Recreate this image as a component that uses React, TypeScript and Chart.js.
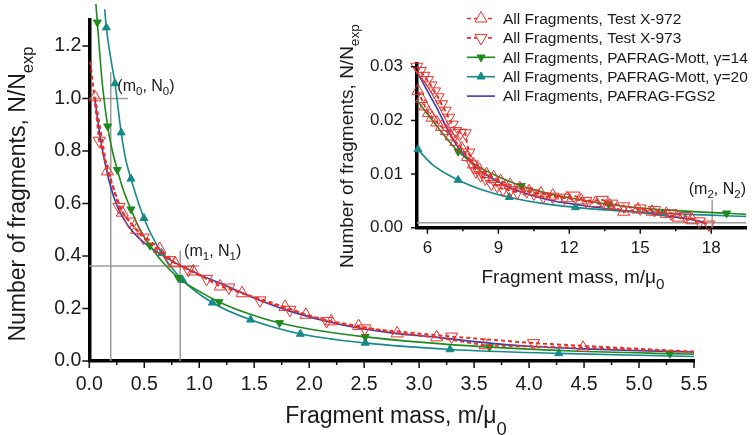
import React, { useEffect, useRef } from 'react';
import { Chart, registerables } from 'chart.js';
Chart.register(...registerables);

const FONT = '"Liberation Sans", Arial, Helvetica, sans-serif';

const RED = '#e8302a';
const GREEN = '#1d8a1d';
const TEAL = '#148a8a';
const BLUE = '#3040b4';
const GRAY = '#9c9c9c';

const seriesNames = [
  'All Fragments, Test X-972',
  'All Fragments, Test X-973',
  'All Fragments, PAFRAG-Mott, γ=14',
  'All Fragments, PAFRAG-Mott, γ=20',
  'All Fragments, PAFRAG-FGS2',
];

// ---------- main plot ----------
const mainXRange = [0, 5.5];
const mainYRange = [0, 1.3];
const mainXTicks = [0, 0.5, 1, 1.5, 2, 2.5, 3, 3.5, 4, 4.5, 5, 5.5];
const mainXTickLabels = ['0.0', '0.5', '1.0', '1.5', '2.0', '2.5', '3.0', '3.5', '4.0', '4.5', '5.0', '5.5'];
const mainXMinor = [0.25, 0.75, 1.25, 1.75, 2.25, 2.75, 3.25, 3.75, 4.25, 4.75, 5.25];
const mainYTicks = [0, 0.2, 0.4, 0.6, 0.8, 1.0, 1.2];
const mainYTickLabels = ['0.0', '0.2', '0.4', '0.6', '0.8', '1.0', '1.2'];

const mainX972X = [0.052, 0.164, 0.30, 0.43, 0.64, 0.78, 0.945, 1.19, 1.39, 1.78, 1.97, 2.2, 2.45, 2.8, 3.16, 3.6, 4.49, 5.5];
const mainX972Y = [1.004, 0.722, 0.565, 0.50, 0.427, 0.372, 0.341, 0.284, 0.258, 0.206, 0.176, 0.151, 0.133, 0.105, 0.090, 0.060, 0.050, 0.035];
const mainX972Unmarked = [5.5];

const mainX973X = [0.01, 0.09, 0.27, 0.364, 0.49, 0.73, 0.90, 1.067, 1.27, 1.552, 1.825, 2.158, 2.506, 3.295, 4.04, 5.5];
const mainX973Y = [1.14, 0.839, 0.587, 0.531, 0.47, 0.384, 0.347, 0.313, 0.28, 0.231, 0.195, 0.152, 0.124, 0.093, 0.068, 0.035];
const mainX973Unmarked = [0.01, 5.5];

const mainG14X = [0.06, 0.073, 0.12, 0.167, 0.21, 0.255, 0.31, 0.379, 0.46, 0.552, 0.67, 0.81, 1.0, 1.18, 1.45, 1.73, 2.1, 2.51, 3.0, 3.64, 4.4, 5.28, 5.5];
const mainG14Y = [1.36, 1.29, 1.05, 0.894, 0.80, 0.728, 0.65, 0.578, 0.50, 0.44, 0.375, 0.317, 0.265, 0.225, 0.18, 0.145, 0.115, 0.092, 0.072, 0.053, 0.038, 0.028, 0.026];
const mainG14Marks = [0.073, 0.167, 0.255, 0.379, 0.552, 0.81, 1.18, 1.73, 2.51, 3.64, 5.28];

const mainG20X = [0.14, 0.155, 0.2, 0.234, 0.29, 0.33, 0.379, 0.497, 0.658, 0.849, 1.12, 1.467, 1.92, 2.51, 3.28, 4.27, 5.5];
const mainG20Y = [1.34, 1.27, 1.14, 1.057, 0.87, 0.77, 0.694, 0.544, 0.411, 0.308, 0.222, 0.157, 0.103, 0.069, 0.044, 0.029, 0.017];
const mainG20Marks = [0.155, 0.234, 0.29, 0.379, 0.497, 0.658, 0.849, 1.12, 1.467, 1.92, 2.51, 3.28, 4.27];

const mainFgsX = [0.05, 0.1, 0.15, 0.2, 0.25, 0.3, 0.4, 0.5, 0.64, 0.8, 1.0, 1.25, 1.55, 1.82, 2.28, 2.73, 3.19, 3.6, 4.0, 4.5, 5.0, 5.5];
const mainFgsY = [1.0, 0.85, 0.74, 0.655, 0.593, 0.55, 0.49, 0.45, 0.409, 0.37, 0.33, 0.286, 0.231, 0.19, 0.139, 0.108, 0.089, 0.07, 0.056, 0.046, 0.039, 0.034];

const cross0VX = [0.195, 0.195];
const cross0VY = [0, 1.10];
const cross0HX = [0, 0.35];
const cross0HY = [1.0, 1.0];
const cross1VX = [0.827, 0.827];
const cross1VY = [0, 0.42];
const cross1HX = [0, 1.0];
const cross1HY = [0.362, 0.362];

// ---------- inset ----------
const insetXRange = [5.56, 19.47];
const insetYRange = [0, 0.0305];
const insetXTicks = [6, 9, 12, 15, 18];
const insetXTickLabels = ['6', '9', '12', '15', '18'];
const insetXMinor = [7.5, 10.5, 13.5, 16.5];
const insetYTicks = [0, 0.01, 0.02, 0.03];
const insetYTickLabels = ['0.00', '0.01', '0.02', '0.03'];

const insX973X = [5.55, 5.7, 5.85, 6.0, 6.15, 6.3, 6.45, 6.6, 6.75, 6.9, 7.05, 7.2, 7.4, 7.6, 7.75, 7.9, 8.05, 8.25, 8.45, 8.7, 8.95, 9.2, 9.5, 9.8, 10.2, 10.5, 10.9, 11.3, 11.8, 12.2, 12.7, 13.4, 13.8, 14.3, 15.0, 15.6, 16.3, 16.9, 17.5, 17.9];
const insX973Y = [0.0300, 0.0292, 0.0283, 0.0275, 0.0265, 0.0254, 0.0243, 0.0230, 0.0218, 0.0205, 0.0192, 0.0180, 0.0177, 0.0176, 0.0140, 0.0118, 0.0105, 0.0098, 0.0092, 0.0082, 0.0078, 0.0072, 0.0070, 0.0066, 0.0068, 0.0064, 0.0058, 0.0058, 0.0056, 0.0060, 0.0050, 0.0052, 0.0045, 0.0040, 0.0036, 0.0033, 0.0027, 0.0022, 0.0012, 0.0006];

const insX972X = [5.6, 5.75, 5.9, 6.05, 6.2, 6.4, 6.6, 6.8, 7.0, 7.2, 7.45, 7.7, 7.95, 8.2, 8.5, 8.8, 9.1, 9.5, 9.9, 10.3, 10.8, 11.3, 11.9, 12.5, 13.1, 13.7, 14.3, 14.9, 15.5, 16.1, 16.6, 17.2];
const insX972Y = [0.0255, 0.0240, 0.0226, 0.0214, 0.0205, 0.0196, 0.0188, 0.0180, 0.0170, 0.0160, 0.0148, 0.0132, 0.0118, 0.0108, 0.0100, 0.0094, 0.0087, 0.0080, 0.0074, 0.0068, 0.0064, 0.0060, 0.0055, 0.0051, 0.0046, 0.0042, 0.0030, 0.0034, 0.0030, 0.0026, 0.0019, 0.0014];

const insG14X = [5.56, 6.0, 6.6, 7.30, 8.0, 9.0, 9.97, 11.0, 12.0, 13.66, 15.0, 16.5, 18.65, 19.47];
const insG14Y = [0.0238, 0.0212, 0.0178, 0.0142, 0.0118, 0.0095, 0.0078, 0.0065, 0.0056, 0.0044, 0.0037, 0.0032, 0.0027, 0.0025];
const insG14Marks = [7.30, 9.97, 13.66, 18.65];

const insG20X = [5.6, 6.2, 7.3, 8.3, 9.46, 10.8, 12.26, 14.0, 15.94, 17.7, 19.47];
const insG20Y = [0.0146, 0.0118, 0.0089, 0.0071, 0.0057, 0.0046, 0.0038, 0.0032, 0.0027, 0.0024, 0.0021];
const insG20Marks = [5.6, 7.3, 9.46, 12.26, 15.94];

const insFgsX = [5.54, 6.0, 6.36, 7.19, 8.02, 9.39, 10.6, 11.46, 12.5, 13.5, 14.76, 16.0, 17.0, 17.7];
const insFgsY = [0.0292, 0.0255, 0.0226, 0.0157, 0.0114, 0.0077, 0.0058, 0.0049, 0.0042, 0.0036, 0.0030, 0.0023, 0.0017, 0.0010];

const cross2VX = [18.04, 18.04];
const cross2VY = [0, 0.0052];
const cross2HX = [5.56, 19.47];
const cross2HY = [0.00095, 0.00095];

// ---------- helpers ----------
type Seg = { t: string; sub?: boolean };

function pts(xs: number[], ys: number[]) {
  return xs.map((x, i) => ({ x, y: ys[i] }));
}

function drawRich(ctx: CanvasRenderingContext2D, segs: Seg[], x: number, y: number, size: number,
  align: 'left' | 'center', rot: boolean, subDy: number, subScale = 0.72) {
  ctx.save();
  ctx.translate(x, y);
  if (rot) ctx.rotate(-Math.PI / 2);
  ctx.textBaseline = 'alphabetic';
  ctx.textAlign = 'left';
  ctx.fillStyle = '#1a1a1a';
  let total = 0;
  const widths = segs.map((s) => {
    ctx.font = `${s.sub ? size * subScale : size}px ${FONT}`;
    const w = ctx.measureText(s.t).width;
    total += w;
    return w;
  });
  let cx = align === 'center' ? -total / 2 : 0;
  segs.forEach((s, i) => {
    ctx.font = `${s.sub ? size * subScale : size}px ${FONT}`;
    ctx.fillText(s.t, cx, s.sub ? subDy : 0);
    cx += widths[i];
  });
  ctx.restore();
}

function tri(ctx: CanvasRenderingContext2D, x: number, y: number, r: number, down: boolean, fill: string | null, stroke: string) {
  const s = down ? -1 : 1;
  ctx.beginPath();
  ctx.moveTo(x, y - s * r);
  ctx.lineTo(x + r * 0.866, y + s * r * 0.5);
  ctx.lineTo(x - r * 0.866, y + s * r * 0.5);
  ctx.closePath();
  if (fill) { ctx.fillStyle = fill; ctx.fill(); }
  ctx.strokeStyle = stroke;
  ctx.lineWidth = 1;
  ctx.stroke();
}

const markRadius = (marks: number[], r: number) => (c: any) => (c.raw && marks.includes(c.raw.x) ? r : 0);
const unmarkRadius = (unmarked: number[], r: number) => (c: any) => (c.raw && unmarked.includes(c.raw.x) ? 0 : r);

function redSet(label: string, xs: number[], ys: number[], unmarked: number[], down: boolean) {
  return {
    label,
    data: pts(xs, ys),
    borderColor: RED,
    borderWidth: 2,
    borderDash: [4, 3],
    tension: 0,
    pointStyle: 'triangle',
    pointRotation: down ? 180 : 0,
    pointRadius: unmarkRadius(unmarked, 7),
    pointBorderColor: RED,
    pointBorderWidth: 1,
    pointBackgroundColor: 'rgba(255,255,255,0)',
  };
}

function curveSet(label: string, xs: number[], ys: number[], marks: number[], color: string, down: boolean) {
  return {
    label,
    data: pts(xs, ys),
    borderColor: color,
    borderWidth: 1.6,
    cubicInterpolationMode: 'monotone',
    pointStyle: 'triangle',
    pointRotation: down ? 180 : 0,
    pointRadius: markRadius(marks, 4.6),
    pointBorderColor: color,
    pointBorderWidth: 1,
    pointBackgroundColor: color,
  };
}

function graySet(xs: number[], ys: number[]) {
  return {
    label: '',
    data: pts(xs, ys),
    borderColor: GRAY,
    borderWidth: 1.5,
    pointRadius: 0,
    tension: 0,
  };
}

function drawTicks(chart: any, xMajor: number[], xMinor: number[], yMajor: number[], majLen: number, minLen: number) {
  const { ctx, chartArea: ca, scales } = chart;
  ctx.save();
  ctx.strokeStyle = '#111';
  ctx.lineWidth = 1.5;
  ctx.beginPath();
  xMajor.forEach((v) => {
    const p = scales.x.getPixelForValue(v);
    ctx.moveTo(p, ca.bottom); ctx.lineTo(p, ca.bottom + majLen);
  });
  xMinor.forEach((v) => {
    const p = scales.x.getPixelForValue(v);
    ctx.moveTo(p, ca.bottom); ctx.lineTo(p, ca.bottom + minLen);
  });
  yMajor.forEach((v) => {
    const p = scales.y.getPixelForValue(v);
    ctx.moveTo(ca.left, p); ctx.lineTo(ca.left - majLen, p);
  });
  ctx.stroke();
  ctx.restore();
}

const mainDeco = {
  id: 'mainDeco',
  afterDraw(chart: any) {
    const { ctx, scales } = chart;
    drawTicks(chart, mainXTicks, mainXMinor, mainYTicks, 7, 4);
    const X = (v: number) => scales.x.getPixelForValue(v);
    const Y = (v: number) => scales.y.getPixelForValue(v);
    drawRich(ctx, [{ t: '(m' }, { t: '0', sub: true }, { t: ', N' }, { t: '0', sub: true }, { t: ')' }], X(0.255), Y(1.05) + 6, 16, 'left', false, 4);
    drawRich(ctx, [{ t: '(m' }, { t: '1', sub: true }, { t: ', N' }, { t: '1', sub: true }, { t: ')' }], X(0.862), Y(0.424) + 6, 16, 'left', false, 4);
    drawRich(ctx, [{ t: 'Fragment mass, m/μ' }, { t: '0', sub: true }], 396, 423, 23, 'center', false, 12, 0.8);
    drawRich(ctx, [{ t: 'Number of fragments, N/N' }, { t: 'exp', sub: true }], 25, 194, 23, 'center', true, 8);
  },
};

const insetDeco = {
  id: 'insetDeco',
  afterDraw(chart: any) {
    const { ctx, scales } = chart;
    drawTicks(chart, insetXTicks, insetXMinor, insetYTicks, 6, 3.5);
    const X = (v: number) => scales.x.getPixelForValue(v);
    const Y = (v: number) => scales.y.getPixelForValue(v);
    drawRich(ctx, [{ t: '(m' }, { t: '2', sub: true }, { t: ', N' }, { t: '2', sub: true }, { t: ')' }], X(17.05), Y(0.0074) + 6, 16, 'left', false, 4);
    drawRich(ctx, [{ t: 'Fragment mass, m/μ' }, { t: '0', sub: true }], 573, 283, 19, 'center', false, 6, 0.8);
    drawRich(ctx, [{ t: 'Number of fragments, N/N' }, { t: 'exp', sub: true }], 353, 146, 19, 'center', true, 6);

    // legend
    ctx.save();
    const rowY0 = 18.5;
    const rowH = 19.4;
    const x1 = 467, x2 = 495, xm = 481, xt = 503;
    seriesNames.forEach((name, i) => {
      const yy = rowY0 + i * rowH;
      ctx.save();
      const col = i < 2 ? RED : i === 2 ? GREEN : i === 3 ? TEAL : BLUE;
      ctx.strokeStyle = col;
      ctx.lineWidth = 1.6;
      if (i < 2) ctx.setLineDash([4, 3]);
      ctx.beginPath();
      ctx.moveTo(x1, yy); ctx.lineTo(x2, yy);
      ctx.stroke();
      ctx.setLineDash([]);
      if (i === 0) tri(ctx, xm, yy, 7, false, '#fff', RED);
      if (i === 1) tri(ctx, xm, yy, 7, true, '#fff', RED);
      if (i === 2) tri(ctx, xm, yy, 4.6, true, GREEN, GREEN);
      if (i === 3) tri(ctx, xm, yy, 4.6, false, TEAL, TEAL);
      ctx.restore();
      ctx.fillStyle = '#1a1a1a';
      ctx.font = `15.5px ${FONT}`;
      ctx.textBaseline = 'middle';
      ctx.textAlign = 'left';
      ctx.fillText(name, xt, yy + 1);
    });
    ctx.restore();
  },
};

function axisCommon(min: number, max: number, ticks: number[], labels: string[], size: number, padding: number, fit: (s: any) => void) {
  return {
    type: 'linear',
    min,
    max,
    afterBuildTicks: (s: any) => { s.ticks = ticks.map((v) => ({ value: v })); },
    afterFit: fit,
    grid: { display: false, drawTicks: false },
    border: { display: true, width: 3.5, color: '#000' },
    ticks: {
      autoSkip: false,
      maxRotation: 0,
      padding,
      color: '#1a1a1a',
      font: { family: FONT, size },
      callback: (_v: any, i: number) => labels[i],
    },
  };
}

function mainConfig(): any {
  return {
    type: 'line',
    data: {
      datasets: [
        redSet(seriesNames[0], mainX972X, mainX972Y, mainX972Unmarked, false),
        redSet(seriesNames[1], mainX973X, mainX973Y, mainX973Unmarked, true),
        curveSet(seriesNames[2], mainG14X, mainG14Y, mainG14Marks, GREEN, true),
        curveSet(seriesNames[3], mainG20X, mainG20Y, mainG20Marks, TEAL, false),
        curveSet(seriesNames[4], mainFgsX, mainFgsY, [], BLUE, false),
        graySet(cross0VX, cross0VY),
        graySet(cross0HX, cross0HY),
        graySet(cross1VX, cross1VY),
        graySet(cross1HX, cross1HY),
      ],
    },
    options: {
      animation: false,
      responsive: false,
      devicePixelRatio: 1,
      layout: { padding: { left: 0, top: 8, right: 60, bottom: 0 } },
      plugins: { legend: { display: false }, tooltip: { enabled: false } },
      datasets: { line: { clip: false } },
      scales: {
        x: axisCommon(mainXRange[0], mainXRange[1], mainXTicks, mainXTickLabels, 19.5, 12, (s: any) => { s.height = 74; }),
        y: axisCommon(mainYRange[0], mainYRange[1], mainYTicks, mainYTickLabels, 19.5, 8, (s: any) => { s.width = 89.3; }),
      },
    },
    plugins: [mainDeco],
  };
}

function insetConfig(): any {
  return {
    type: 'line',
    data: {
      datasets: [
        redSet(seriesNames[0], insX972X, insX972Y, [], false),
        redSet(seriesNames[1], insX973X, insX973Y, [], true),
        curveSet(seriesNames[2], insG14X, insG14Y, insG14Marks, GREEN, true),
        curveSet(seriesNames[3], insG20X, insG20Y, insG20Marks, TEAL, false),
        curveSet(seriesNames[4], insFgsX, insFgsY, [], BLUE, false),
        graySet(cross2VX, cross2VY),
        graySet(cross2HX, cross2HY),
      ],
    },
    options: {
      animation: false,
      responsive: false,
      devicePixelRatio: 1,
      layout: { padding: { left: 0, top: 64, right: 0, bottom: 0 } },
      plugins: { legend: { display: false }, tooltip: { enabled: false } },
      datasets: { line: { clip: false } },
      scales: {
        x: axisCommon(insetXRange[0], insetXRange[1], insetXTicks, insetXTickLabels, 17, 10, (s: any) => { s.height = 207.2; }),
        y: axisCommon(insetYRange[0], insetYRange[1], insetYTicks, insetYTickLabels, 17, 14, (s: any) => { s.width = 417; }),
      },
    },
    plugins: [insetDeco],
  };
}

export default function App() {
  const mainRef = useRef<HTMLCanvasElement | null>(null);
  const insetRef = useRef<HTMLCanvasElement | null>(null);
  useEffect(() => {
    const c1 = new Chart(mainRef.current as HTMLCanvasElement, mainConfig());
    const c2 = new Chart(insetRef.current as HTMLCanvasElement, insetConfig());
    return () => { c1.destroy(); c2.destroy(); };
  }, []);
  const cs: React.CSSProperties = { position: 'absolute', left: 0, top: 0, width: 754, height: 435 };
  return (
    <div style={{ position: 'fixed', left: 0, top: 0, width: 754, height: 435, background: '#fff', overflow: 'hidden' }}>
      <canvas ref={mainRef} width={754} height={435} style={cs} />
      <canvas ref={insetRef} width={754} height={435} style={cs} />
    </div>
  );
}
